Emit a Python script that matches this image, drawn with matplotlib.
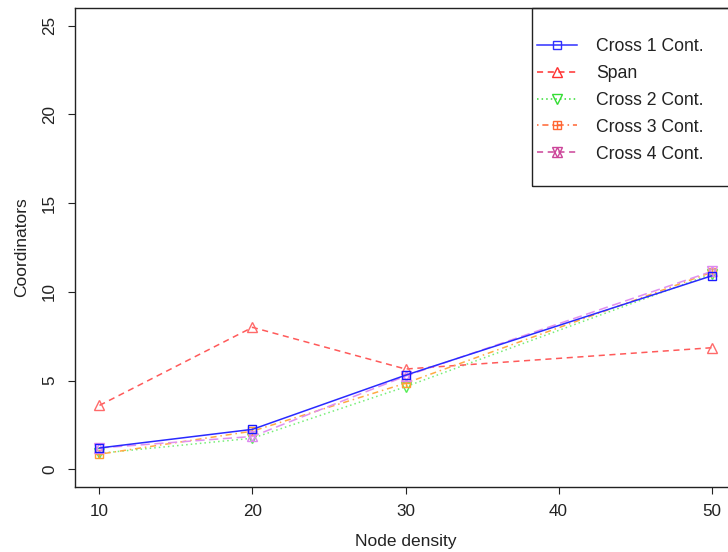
import matplotlib
matplotlib.use("Agg")
import matplotlib.pyplot as plt
from matplotlib.lines import Line2D
from matplotlib.patches import Rectangle
from matplotlib.legend_handler import HandlerTuple

plt.rcParams['font.family'] = ['Liberation Sans', 'DejaVu Sans']

node_density = [10, 20, 30, 50]
cross1 = [1.2, 2.25, 5.3, 10.9]
span = [3.6, 8.0, 5.65, 6.85]
cross2 = [0.9, 1.75, 4.65, 11.0]
cross3 = [0.85, 2.15, 4.85, 11.1]
cross4 = [1.2, 1.85, 5.25, 11.15]
labels = ["Cross 1 Cont.", "Span", "Cross 2 Cont.", "Cross 3 Cont.", "Cross 4 Cont."]
xticks = [10, 20, 30, 40, 50]
yticks = [0, 5, 10, 15, 20, 25]

W, H = 728, 552
fig = plt.figure(figsize=(W / 100, H / 100), dpi=100)
ax = fig.add_axes([75 / W, 1 - 487 / H, (736 - 75) / W, (487 - 8) / H])

ms = 5.5
mew = 1.0
# plot series
ax.plot(node_density, cross1, color='#2a2aff', lw=1.1, ls='-', marker='s', ms=ms,
        mfc='none', mec='#1a1aff', mew=mew, zorder=5)
ax.plot(node_density, span, color='#ff5a5a', lw=1.1, ls=(0, (4, 3)), marker='^', ms=ms + 1,
        mfc='none', mec='#ff6a6a', mew=mew, zorder=3)
ax.plot(node_density, cross2, color='#77ee77', lw=1.1, ls=(0, (1, 2)), marker='v', ms=ms + 1,
        mfc='none', mec='#55ee55', mew=mew, zorder=2)
ax.plot(node_density, cross3, color='#ffaa44', lw=1.1, ls=(0, (1, 2.5, 4, 2.5)), marker='s', ms=ms,
        mfc='none', mec='#ffa030', mew=mew, zorder=3)
ax.plot(node_density, cross3, ls='none', marker='+', ms=ms, mec='#ffa030', mew=mew, zorder=3)
ax.plot(node_density, cross4, color='#e090f0', lw=1.1, ls=(0, (6, 3)), marker='^', ms=ms + 1,
        mfc='none', mec='#dd88f0', mew=mew, zorder=4)
ax.plot(node_density, cross4, ls='none', marker='v', ms=ms + 1, mfc='none',
        mec='#dd88f0', mew=mew, zorder=4)

ax.set_xlim(8.4, 51.6)
ax.set_ylim(-1, 26)
ax.set_xticks(xticks)
ax.set_yticks(yticks)
ax.tick_params(direction='out', length=5, width=0.8, labelsize=12.3, colors='#222222')
ax.tick_params(axis='x', pad=7)
ax.tick_params(axis='y', pad=8)
for lab in ax.get_yticklabels():
    lab.set_rotation(90)
    lab.set_va('center')
for s in ax.spines.values():
    s.set_linewidth(1.0)
    s.set_color('#222222')
ax.set_xlabel("Node density", fontsize=12.5, color='#222222', labelpad=11)
ax.set_ylabel("Coordinators", fontsize=12.5, color='#222222', labelpad=9)

# legend proxies
h1 = Line2D([], [], color='#3030ff', lw=1.1, marker='s', ms=ms, mfc='none', mew=mew)
h2 = Line2D([], [], color='#ff3030', lw=1.1, ls=(0, (4, 3)), marker='^', ms=ms + 1, mfc='none', mew=mew)
h3 = Line2D([], [], color='#33dd33', lw=1.1, ls=(0, (1, 2)), marker='v', ms=ms + 1, mfc='none', mew=mew)
h4a = Line2D([], [], color='#ff6633', lw=1.1, ls=(0, (1, 2.5, 4, 2.5)), marker='s', ms=ms, mfc='none', mew=mew)
h4b = Line2D([], [], color='#ff6633', ls='none', marker='+', ms=ms, mew=mew)
h5a = Line2D([], [], color='#cc4499', lw=1.1, ls=(0, (4, 3)), marker='^', ms=ms + 1, mfc='none', mew=mew)
h5b = Line2D([], [], color='#cc4499', ls='none', marker='v', ms=ms + 1, mfc='none', mew=mew)

fig.patches.append(Rectangle((532 / W, 1 - 186 / H), (740 - 532) / W, (186 - 8) / H,
                             transform=fig.transFigure, fill=False, ec='#222222', lw=1.0))
leg = fig.legend([h1, h2, h3, (h4a, h4b), (h5a, h5b)], labels,
                 handler_map={tuple: HandlerTuple(ndivide=1)},
                 loc='upper left', bbox_to_anchor=(537 / W, 1 - 38 / H),
                 frameon=False, borderpad=0, borderaxespad=0,
                 fontsize=12.7, handlelength=2.25, handletextpad=1.1, labelspacing=0.56)
for t in leg.get_texts():
    t.set_color('#222222')

fig.savefig("out.png", dpi=100)
